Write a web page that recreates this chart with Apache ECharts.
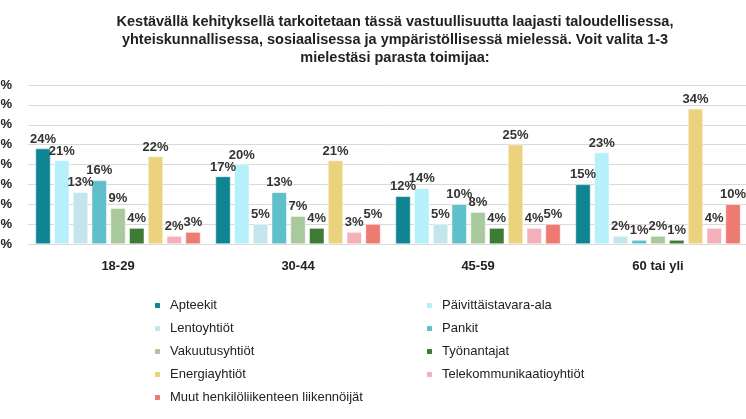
<!DOCTYPE html>
<html>
<head>
<meta charset="UTF-8">
<script src="https://cdn.jsdelivr.net/npm/echarts@6/dist/echarts.min.js"></script>
<style>html,body{margin:0;padding:0;background:#fff}</style>
</head>
<body>
<div id="main" style="width:746px;height:419px;"></div>
<script>
var categories = ['18-29', '30-44', '45-59', '60 tai yli'];
var seriesNames = ['Apteekit', 'Päivittäistavara-ala', 'Lentoyhtiöt', 'Pankit', 'Vakuutusyhtiöt',
    'Työnantajat', 'Energiayhtiöt', 'Telekommunikaatioyhtiöt', 'Muut henkilöliikenteen liikennöijät'];
var values = [
    [24, 17, 12, 15],
    [21, 20, 14, 23],
    [13, 5, 5, 2],
    [16, 13, 10, 1],
    [9, 7, 8, 2],
    [4, 4, 4, 1],
    [22, 21, 25, 34],
    [2, 3, 4, 4],
    [3, 5, 5, 10]
];
var colors = ['#0f8593', '#b5f0fb', '#c2e6ec', '#5fbfca', '#a9c99c', '#3e7c36', '#ead37c', '#f6b0ba', '#ee7b72'];

var myChart = echarts.init(document.getElementById('main'));
var series = [];
for (var i = 0; i < seriesNames.length; i++) {
    series.push({
        name: seriesNames[i],
        type: 'bar',
        barWidth: 15,
        barGap: '25%',
        data: values[i],
        itemStyle: {color: colors[i], borderColor: '#ffffff', borderWidth: 0.5},
        label: {show: true, position: 'top', formatter: '{c}%', fontSize: 13, fontWeight: 'bold', color: '#333', fontFamily: 'Arial', distance: 3}
    });
}
var option = {
    title: {
        text: 'Kestävällä kehityksellä tarkoitetaan tässä vastuullisuutta laajasti taloudellisessa,\nyhteiskunnallisessa, sosiaalisessa ja ympäristöllisessä mielessä. Voit valita 1-3\nmielestäsi parasta toimijaa:',
        left: 390, top: 8, textAlign: 'center',
        textStyle: {fontSize: 14.5, fontWeight: 'bold', color: '#222', lineHeight: 18, fontFamily: 'Arial'}
    },
    grid: {left: 28, right: -2, top: 85, bottom: 175, containLabel: false, outerBoundsMode: 'none'},
    legend: [{
        orient: 'vertical', left: 148, top: 294, itemGap: 10, itemWidth: 7, itemHeight: 7,
        textStyle: {fontSize: 13, color: '#222', fontFamily: 'Arial', padding: [0, 0, 0, 4]},
        data: [seriesNames[0], seriesNames[2], seriesNames[4], seriesNames[6], seriesNames[8]]
    }, {
        orient: 'vertical', left: 420, top: 294, itemGap: 10, itemWidth: 7, itemHeight: 7,
        textStyle: {fontSize: 13, color: '#222', fontFamily: 'Arial', padding: [0, 0, 0, 4]},
        data: [seriesNames[1], seriesNames[3], seriesNames[5], seriesNames[7]]
    }],
    xAxis: {
        type: 'category', data: categories,
        axisTick: {show: false},
        axisLine: {lineStyle: {color: '#d9d9d9'}},
        axisLabel: {fontSize: 13, fontWeight: 'bold', color: '#222', margin: 16, fontFamily: 'Arial'}
    },
    yAxis: {
        type: 'value', min: 0, max: 40, interval: 5,
        axisLabel: {formatter: '{value}%', fontSize: 13, fontWeight: 'bold', color: '#222', margin: 16, fontFamily: 'Arial'},
        splitLine: {lineStyle: {color: '#d9d9d9'}}
    },
    series: series
};
myChart.setOption(option);
</script>
</body>
</html>
